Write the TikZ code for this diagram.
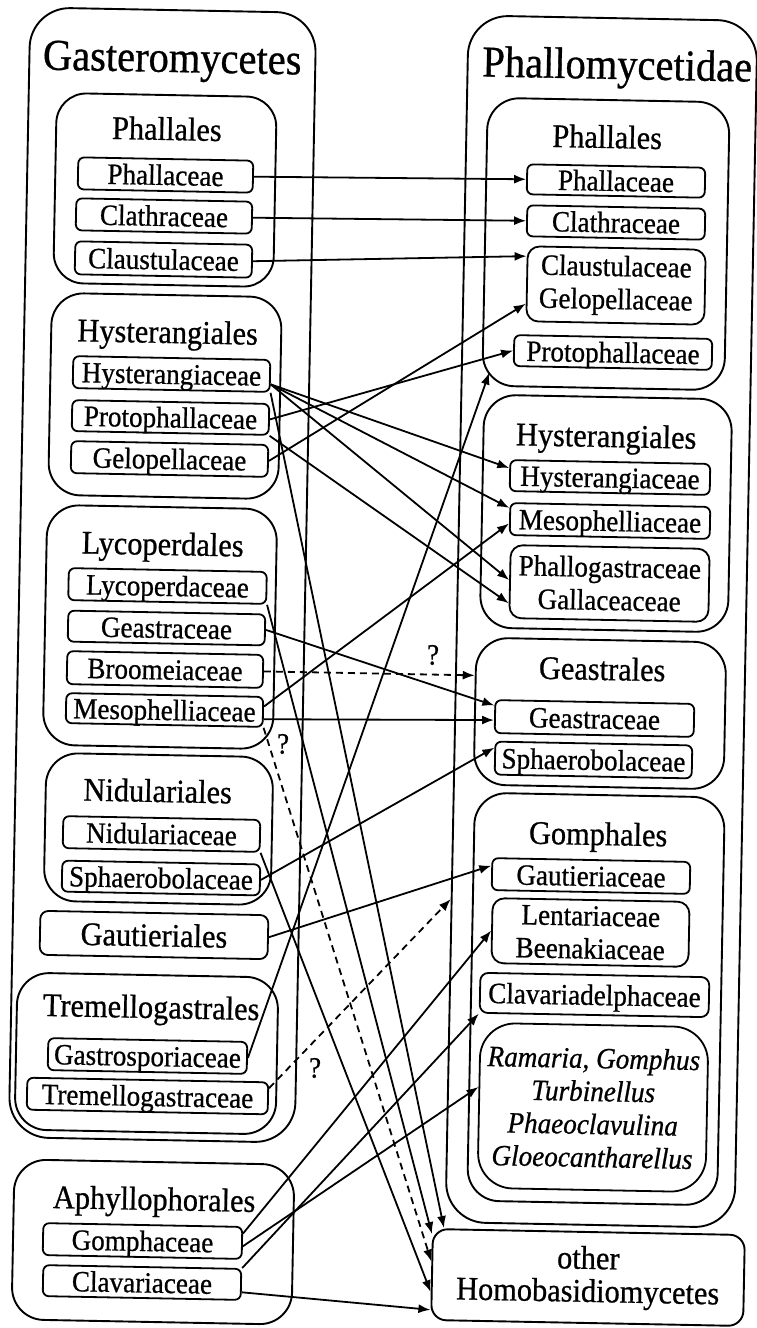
\documentclass[tikz,border=0pt]{standalone}
\usepackage{fontspec}
\setmainfont[FakeStretch=0.92,FakeBold=0.7]{Liberation Serif}
\usetikzlibrary{arrows.meta,calc}
\newcommand{\fFam}{\fontsize{29.5}{33}\selectfont}
\newcommand{\fOrd}{\fontsize{33}{33}\selectfont}
\newcommand{\fBig}{\fontsize{44}{48}\selectfont}
\begin{document}
\begin{tikzpicture}[x=1pt,y=-1pt,
  every node/.append style={rotate=-1.1},
  fam/.style={draw, rounded corners=6pt, line width=1.8pt, inner sep=0pt, font=\fFam, text height=20pt, text depth=0pt},
  famtwo/.style={draw, rounded corners=12pt, line width=1.8pt, inner sep=0pt, font=\fFam, align=center},
  grp/.style={draw, rounded corners=32pt, line width=1.9pt, inner sep=0pt},
  ttl/.style={anchor=base, font=\fOrd, inner sep=0pt},
  bigttl/.style={anchor=base, font=\fBig, inner sep=0pt},
  arr/.style={line width=1.8pt, -{Latex[length=12pt,width=9pt]}},
  dsh/.style={dash pattern=on 7pt off 5pt},
  qm/.style={font=\fFam, inner sep=0pt}]
\useasboundingbox (0,0) rectangle (757,1328);
\fill[white] (0,0) rectangle (757,1328);

% ---------- left column: Gasteromycetes ----------
\node[grp, rounded corners=40pt, minimum width=286pt, minimum height=1130pt] (gO) at (162.5,575) {};
\node[bigttl] (gT) at (172,72) {Gasteromycetes};

\node[grp, rounded corners=30pt, minimum width=220pt, minimum height=190pt] (phlO) at (165,190) {};
\node[ttl] (phlT) at (166.7,140) {Phallales};
\node[fam, minimum width=175pt, minimum height=32pt] (phL) at (165.5,175) {Phallaceae};
\node[fam, minimum width=176pt, minimum height=32pt] (clL) at (164,216) {Clathraceae};
\node[fam, minimum width=177pt, minimum height=33pt] (cuL) at (163.5,259.5) {Claustulaceae};

\node[grp, minimum width=230pt, minimum height=202pt] (hyO) at (165,396) {};
\node[ttl] (hyT) at (167.5,343) {Hysterangiales};
\node[fam, minimum width=197pt, minimum height=32pt] (hyL) at (171.5,374) {Hysterangiaceae};
\node[fam, minimum width=197pt, minimum height=31pt] (ptL) at (170.5,417.5) {Protophallaceae};
\node[fam, minimum width=197pt, minimum height=32pt] (gpL) at (169.5,459) {Gelopellaceae};

\node[grp, minimum width=230pt, minimum height=240pt] (lyO) at (160,627) {};
\node[ttl] (lyT) at (162.5,555) {Lycoperdales};
\node[fam, minimum width=198pt, minimum height=32pt] (lyL) at (167.5,586) {Lycoperdaceae};
\node[fam, minimum width=197pt, minimum height=31pt] (gsaL) at (166.5,628) {Geastraceae};
\node[fam, minimum width=196pt, minimum height=33pt] (brL) at (165,669.5) {Broomeiaceae};
\node[fam, minimum width=197pt, minimum height=30pt] (meL) at (164.5,710) {Mesophelliaceae};

\node[grp, minimum width=227pt, minimum height=148pt] (niO) at (158.5,829) {};
\node[ttl] (niT) at (157.5,802) {Nidulariales};
\node[fam, minimum width=197pt, minimum height=32pt] (niL) at (161.5,834) {Nidulariaceae};
\node[fam, minimum width=198pt, minimum height=31pt] (spL) at (161,878) {Sphaerobolaceae};

\node[draw, rounded corners=8pt, line width=1.8pt, inner sep=0pt, font=\fOrd, minimum width=228pt, minimum height=44pt] (gaL) at (154,935) {Gautieriales};

\node[grp, minimum width=261pt, minimum height=157pt] (trO) at (146.5,1053.5) {};
\node[ttl] (trT) at (151,1018) {Tremellogastrales};
\node[fam, minimum width=199pt, minimum height=32pt] (gsL) at (147.5,1056) {Gastrosporiaceae};
\node[fam, minimum width=241pt, minimum height=32pt] (tgL) at (147.5,1096) {Tremellogastraceae};

\node[grp, minimum width=280pt, minimum height=160pt] (apO) at (153,1242) {};
\node[ttl] (apT) at (154,1210) {Aphyllophorales};
\node[fam, minimum width=199pt, minimum height=32pt] (gmL) at (142.5,1241) {Gomphaceae};
\node[fam, minimum width=198pt, minimum height=31pt] (cvL) at (142,1282.5) {Clavariaceae};

% ---------- right column: Phallomycetidae ----------
\node[grp, rounded corners=40pt, minimum width=289pt, minimum height=1207pt] (pmO) at (601.5,621.5) {};
\node[bigttl] (pmT) at (617,79) {Phallomycetidae};

\node[grp, minimum width=242pt, minimum height=288pt] (phrO) at (606,244) {};
\node[ttl] (phrT) at (607,148) {Phallales};
\node[fam, minimum width=178pt, minimum height=30pt] (phR) at (616,181) {Phallaceae};
\node[fam, minimum width=178pt, minimum height=31pt] (clR) at (616,222.5) {Clathraceae};
\node[famtwo, minimum width=178pt, minimum height=75pt] (cgR) at (616,285.5) {Claustulaceae\\Gelopellaceae};
\node[fam, minimum width=198pt, minimum height=31pt] (ptR) at (613,352.5) {Protophallaceae};

\node[grp, minimum width=248pt, minimum height=233pt] (hyrO) at (606,513.5) {};
\node[ttl] (hyrT) at (606,447) {Hysterangiales};
\node[fam, minimum width=200pt, minimum height=31pt] (hyR) at (610,477.5) {Hysterangiaceae};
\node[fam, minimum width=200pt, minimum height=32pt] (meR) at (610,521) {Mesophelliaceae};
\node[famtwo, minimum width=199pt, minimum height=73pt] (pgR) at (609.5,583.5) {Phallogastraceae\\Gallaceaceae};

\node[grp, minimum width=250pt, minimum height=147pt] (gsO) at (600,713.5) {};
\node[ttl] (gsT) at (602,680) {Geastrales};
\node[fam, minimum width=199pt, minimum height=33pt] (geaR) at (594.5,718.5) {Geastraceae};
\node[fam, minimum width=197pt, minimum height=33pt] (spR) at (593.5,760) {Sphaerobolaceae};

\node[grp, minimum width=250pt, minimum height=408pt] (goO) at (596,999) {};
\node[ttl] (goT) at (598,845) {Gomphales};
\node[fam, minimum width=198pt, minimum height=32pt] (gauR) at (591,876) {Gautieriaceae};
\node[famtwo, minimum width=197pt, minimum height=65pt] (leR) at (590.5,932.5) {Lentariaceae\\Beenakiaceae};
\node[fam, rounded corners=8pt, minimum width=229pt, minimum height=40pt] (cdR) at (594.5,995) {Clavariadelphaceae};
\node[famtwo, rounded corners=35pt, minimum width=228pt, minimum height=165pt, font=\fFam\itshape] (raR) at (593,1107.5)
  {Ramaria, Gomphus\\Turbinellus\\Phaeoclavulina\\Gloeocantharellus};

\node[draw, rounded corners=15pt, line width=1.9pt, inner sep=0pt, align=center, font=\fOrd, minimum width=312pt, minimum height=91pt] (oh) at (588,1277.5)
  {other\\Homobasidiomycetes};

% ---------- connectors ----------
\draw[arr] (phL.east) -- (phR.west);
\draw[arr] (clL.east) -- (clR.west);
\draw[arr] (cuL.east) -- ($(cgR.north west)!0.14!(cgR.south west)$);

\draw[arr] ($(hyL.north east)!0.75!(hyL.south east)$) -- ($(hyR.north west)!0.27!(hyR.south west)$);
\draw[arr] ($(hyL.north east)!0.75!(hyL.south east)$) -- ($(meR.north west)!0.17!(meR.south west)$);
\draw[arr] ($(hyL.north east)!0.75!(hyL.south east)$) -- ($(pgR.north west)!0.48!(pgR.south west)$);
\draw[arr] (hyL.south east) -- ([xshift=12pt]oh.north west);
\draw[arr] (ptL.east) -- (ptR.west);
\draw[arr] (ptL.south east) -- ($(pgR.north west)!0.79!(pgR.south west)$);
\draw[arr] (gpL.east) -- ($(cgR.north west)!0.76!(cgR.south west)$);

\draw[arr] (lyL.south east) -- ([yshift=-6pt]oh.north west);
\draw[arr] (gsaL.east) -- ($(geaR.north west)!0.18!(geaR.south west)$);
\draw[arr, dsh] (brL.east) -- ($(gsO.north west)!0.26!(gsO.south west)$);
\draw[arr] ($(meL.north east)!0.33!(meL.south east)$) -- ($(meR.north west)!0.63!(meR.south west)$);
\draw[arr] ($(meL.north east)!0.73!(meL.south east)$) -- ($(geaR.north west)!0.6!(geaR.south west)$);
\draw[arr, dsh] (meL.south east) -- ($(oh.north west)!0.36!(oh.south west)$);

\draw[arr] (spL.east) -- ($(spR.north west)!0.2!(spR.south west)$);
\draw[arr] (niL.south east) -- ($(oh.north west)!0.69!(oh.south west)$);
\draw[arr] (gaL.east) -- ($(gauR.north west)!0.25!(gauR.south west)$);
\draw[arr] (gsL.east) -- ([xshift=8pt,yshift=14pt]phrO.south west);
\draw[arr, dsh] ($(tgL.north east)!0.2!(tgL.south east)$) -- ($(pmO.north west)!0.732!(pmO.south west)$);

\draw[arr] ($(gmL.north east)!0.22!(gmL.south east)$) -- (leR.west);
\draw[arr] ($(gmL.north east)!0.6!(gmL.south east)$) -- ($(raR.north west)!0.39!(raR.south west)$);
\draw[arr] (cvL.north east) -- (cdR.south west);
\draw[arr] ($(cvL.north east)!0.74!(cvL.south east)$) -- ($(oh.north west)!0.88!(oh.south west)$);

% ---------- uncertain links ----------
\node[qm] (q1) at (433,655) {?};
\node[qm] (q2) at (283,744) {?};
\node[qm] (q3) at (315,1068) {?};
\end{tikzpicture}
\end{document}
